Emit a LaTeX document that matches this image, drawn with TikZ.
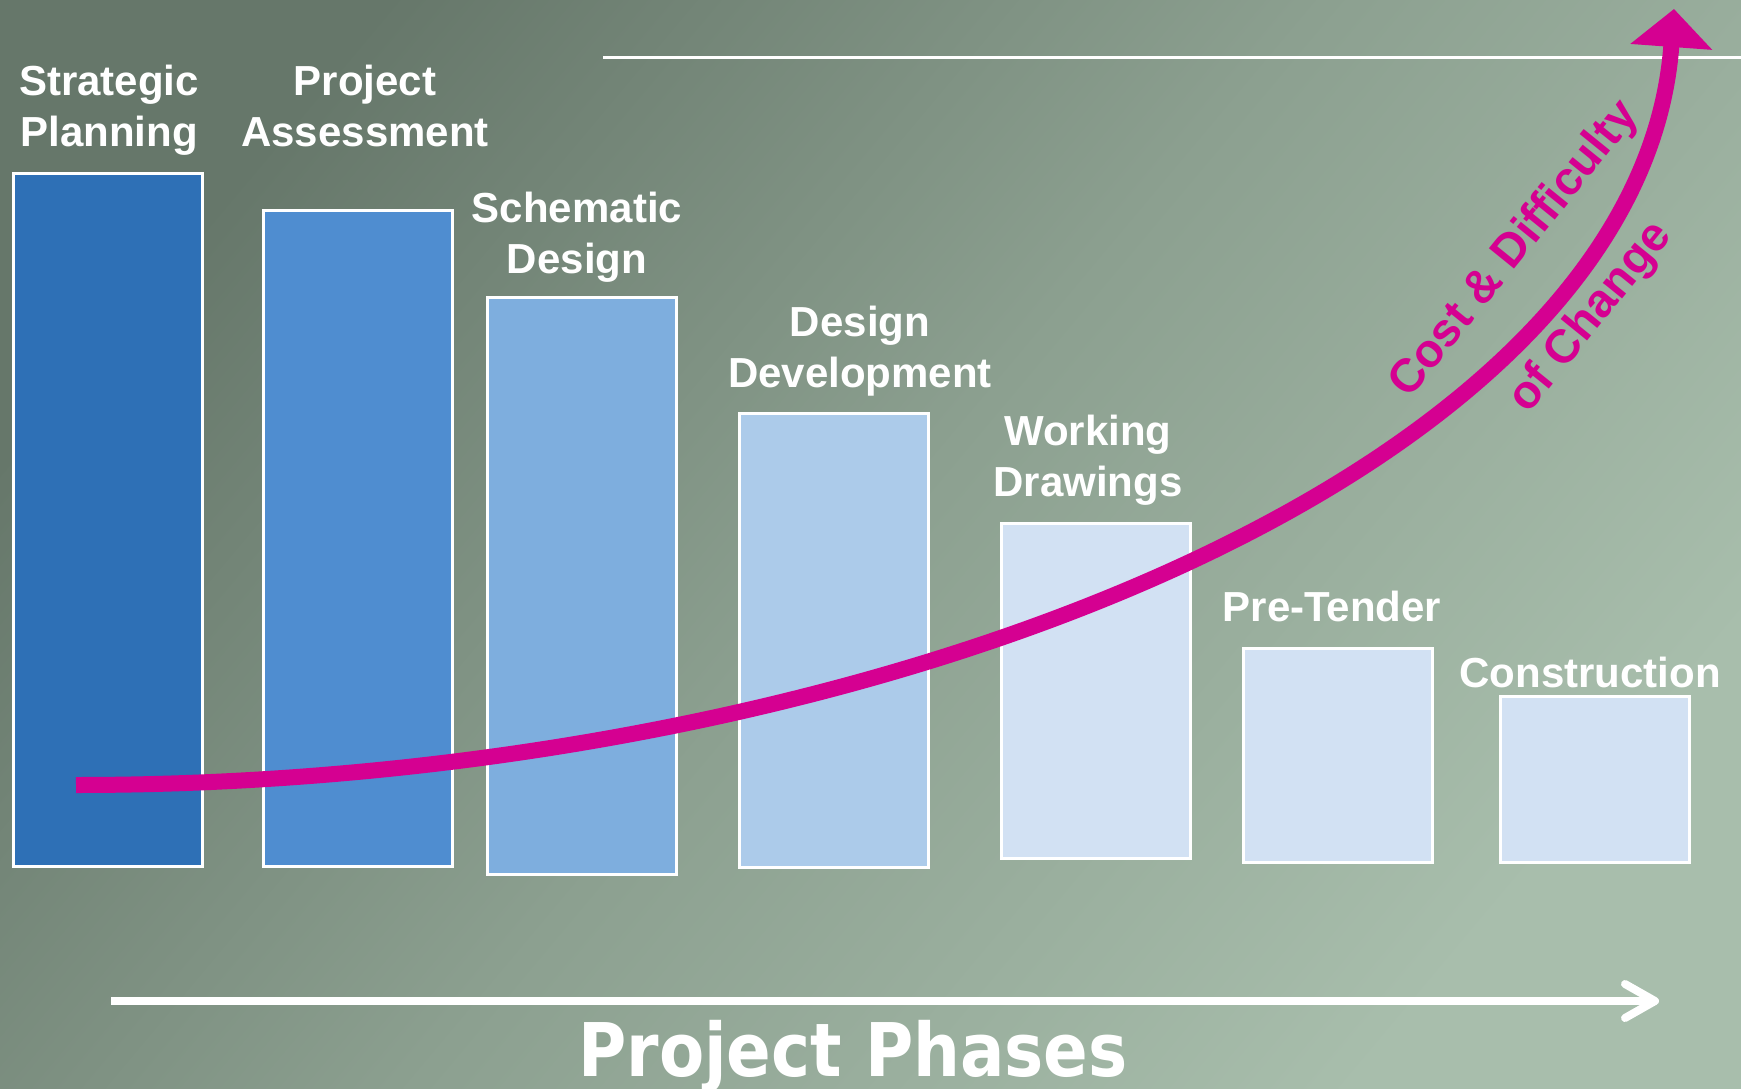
\documentclass[tikz,border=0pt]{standalone}
\usepackage{fontspec}
\setmainfont{Liberation Sans}
\newfontfamily\phasefont[FakeStretch=0.89]{DejaVu Sans}
\usetikzlibrary{arrows.meta}

\definecolor{bgdark}{RGB}{102,119,106}
\definecolor{bgmid}{RGB}{140,160,144}
\definecolor{bglight}{RGB}{168,190,172}
\definecolor{phaseA}{RGB}{46,112,182}
\definecolor{phaseB}{RGB}{79,141,208}
\definecolor{phaseC}{RGB}{126,174,222}
\definecolor{phaseD}{RGB}{172,203,234}
\definecolor{phaseE}{RGB}{210,225,243}
\definecolor{changepink}{RGB}{213,0,145}

\begin{document}
\begin{tikzpicture}[x=1pt, y=-1pt,
    phasebar/.style={draw=white, line width=3pt, minimum width=189pt, inner sep=0pt},
    phaselabel/.style={text=white, font=\fontsize{42}{51}\selectfont\bfseries, align=center, inner sep=0pt},
    changelabel/.style={text=changepink, font=\fontsize{47}{50}\selectfont\bfseries, rotate=51, inner sep=0pt}]

    % Background
    \shade[top color=bgdark, bottom color=bglight, middle color=bgmid, shading angle=50] (0,0) rectangle (1741,1089);
    \useasboundingbox (0,0) rectangle (1741,1089);
    \draw[white, line width=3pt] (603,58) -- (1741,58);

    % Draw the phase bars
    \node[phasebar, fill=phaseA, minimum height=693pt] (sp) at (108,520) {};
    \node[phasebar, fill=phaseB, minimum height=656pt] (pa) at (358,538.5) {};
    \node[phasebar, fill=phaseC, minimum height=577pt] (sd) at (582,586) {};
    \node[phasebar, fill=phaseD, minimum height=454pt] (dd) at (834,640.5) {};
    \node[phasebar, fill=phaseE, minimum height=335pt] (wd) at (1096,691) {};
    \node[phasebar, fill=phaseE, minimum height=214pt] (pt) at (1338,755.5) {};
    \node[phasebar, fill=phaseE, minimum height=166pt] (co) at (1595,779.5) {};

    % Label the phases
    \node[phaselabel] (sptext) at (109,110) {Strategic\\Planning};
    \node[phaselabel] (patext) at (365,105.5) {Project\\Assessment};
    \node[phaselabel] (sdtext) at (577,237) {Schematic\\Design};
    \node[phaselabel] (ddtext) at (860,351) {Design\\Development};
    \node[phaselabel] (wdtext) at (1088,460.5) {Working\\Drawings};
    \node[phaselabel, anchor=base] (pttext) at (1332,621) {Pre-Tender};
    \node[phaselabel, anchor=base] (cotext) at (1590,687) {Construction};

    % Draw the cost curve
    \coordinate (cstart) at (76,785);
    \coordinate (ctip) at (1674,9);
    \draw[changepink, line width=16pt, -{Triangle[length=38pt, width=80pt]}] (cstart) .. controls (860,785) and (1640,478) .. (ctip);
    \node[changelabel] (cost) at (1515,250) {Cost \& Difficulty};
    \node[changelabel] (change) at (1591,318) {of Change};

    % Draw the phase axis
    \coordinate (pstart) at (111,1001);
    \coordinate (pend) at (1659,1001);
    \draw[white, line width=8pt, -{Straight Barb[length=30pt, width=34pt, round]}] (pstart) -- (pend);
    \node[text=white, font=\phasefont\fontsize{74}{80}\selectfont\bfseries, anchor=base, inner sep=0pt] (phases) at (853,1076) {Project Phases};

\end{tikzpicture}
\end{document}
